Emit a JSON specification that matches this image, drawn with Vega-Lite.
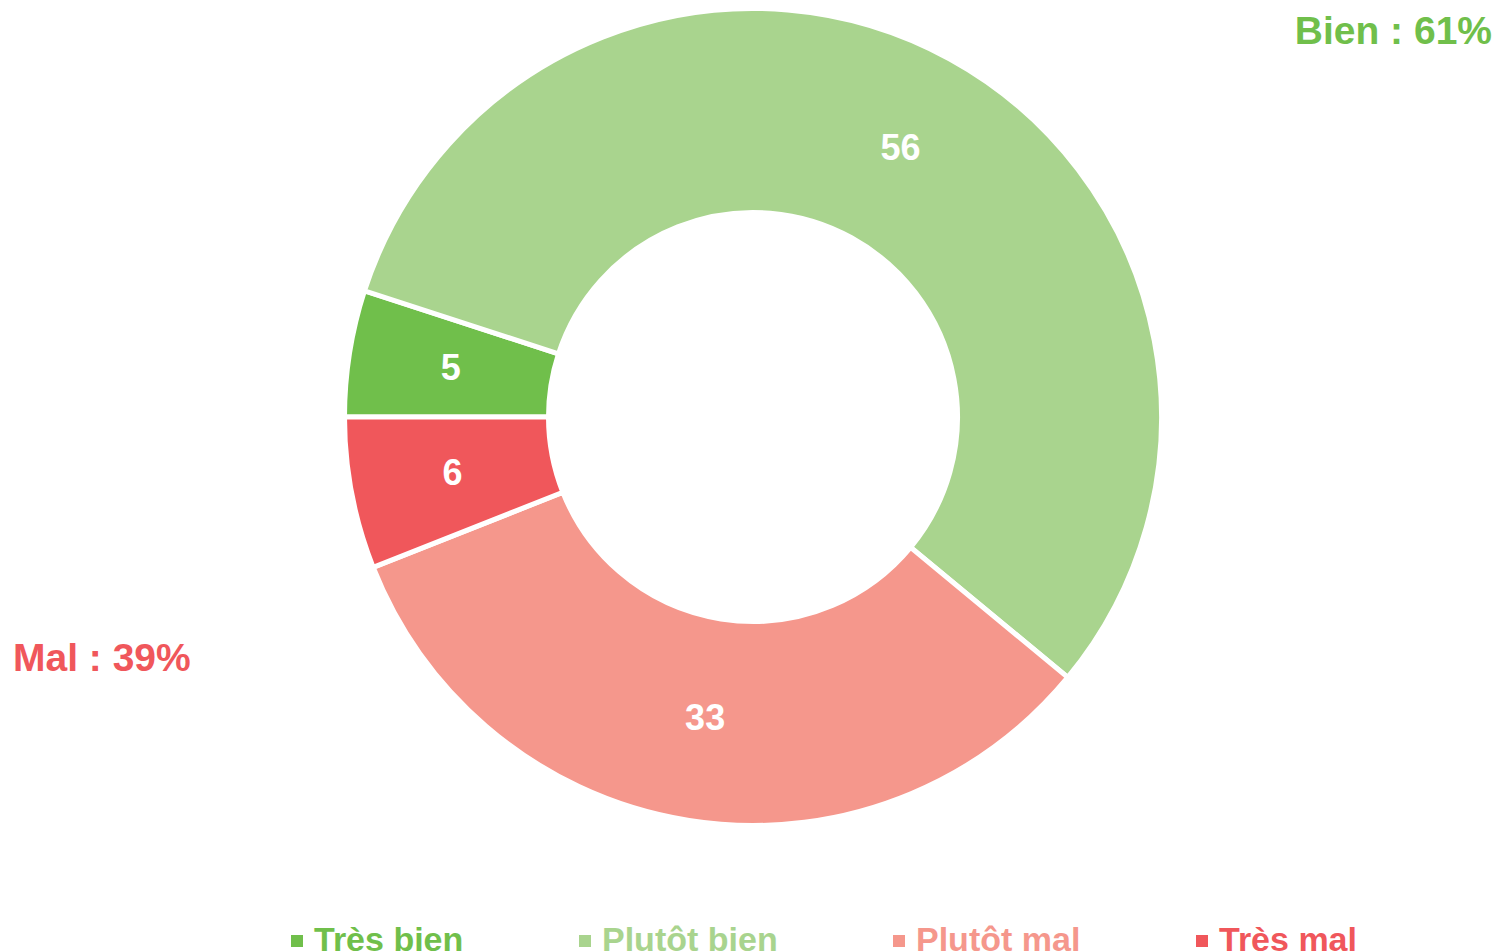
{
  "$schema": "https://vega.github.io/schema/vega-lite/v6.json",
  "autosize": "none",
  "width": 1488,
  "height": 834,
  "padding": {"left": 9, "top": 0, "right": 0, "bottom": 118},
  "background": "white",
  "config": {"view": {"stroke": null}, "font": "Liberation Sans"},
  "datasets": {
    "slices": [
      {"categorie": "Très bien", "valeur": 5, "ordre": 1},
      {"categorie": "Plutôt bien", "valeur": 56, "ordre": 2},
      {"categorie": "Plutôt mal", "valeur": 33, "ordre": 3},
      {"categorie": "Très mal", "valeur": 6, "ordre": 4}
    ],
    "totaux": [
      {"groupe": "Bien", "texte": "Bien : 61%"},
      {"groupe": "Mal", "texte": "Mal : 39%"}
    ]
  },
  "layer": [
    {
      "data": {"name": "slices"},
      "mark": {"type": "arc", "outerRadius": 408.5, "innerRadius": 204.5, "stroke": "white", "strokeWidth": 5},
      "encoding": {
        "theta": {"field": "valeur", "type": "quantitative", "stack": true, "scale": {"range": [4.71238898, 10.99557429]}},
        "order": {"field": "ordre", "type": "quantitative"},
        "color": {
          "field": "categorie",
          "type": "nominal",
          "scale": {
            "domain": ["Très bien", "Plutôt bien", "Plutôt mal", "Très mal"],
            "range": ["#70bf4b", "#a9d48e", "#f5978c", "#f0575b"]
          },
          "legend": {
            "orient": "none",
            "legendX": 271,
            "legendY": 924,
            "direction": "horizontal",
            "columns": 4,
            "columnPadding": 104,
            "title": null,
            "symbolType": "square",
            "symbolSize": 144,
            "symbolStrokeWidth": 0,
            "labelFontSize": 34,
            "labelFont": "Liberation Sans",
            "labelFontWeight": "bold",
            "labelOffset": 0,
            "labelLimit": 400,
            "labelColor": {"expr": "scale('color', datum.value)"}
          }
        }
      }
    },
    {
      "data": {"name": "slices"},
      "mark": {"type": "text", "radius": 306, "fontSize": 36, "fontWeight": "bold", "fill": "white", "font": "Liberation Sans"},
      "encoding": {
        "theta": {"field": "valeur", "type": "quantitative", "stack": true},
        "order": {"field": "ordre", "type": "quantitative"},
        "text": {"field": "valeur", "type": "quantitative"}
      }
    },
    {
      "data": {"name": "totaux"},
      "mark": {
        "type": "text",
        "fontSize": 39,
        "fontWeight": "bold",
        "font": "Liberation Sans",
        "baseline": "alphabetic",
        "align": {"expr": "datum.groupe === 'Bien' ? 'right' : 'left'"}
      },
      "encoding": {
        "x": {"field": "groupe", "type": "nominal", "scale": {"type": "point", "padding": 0, "domain": ["Mal", "Bien"], "range": [4, 1483]}, "axis": null},
        "y": {"field": "groupe", "type": "nominal", "scale": {"type": "point", "padding": 0, "domain": ["Bien", "Mal"], "range": [44, 671]}, "axis": null},
        "text": {"field": "texte"},
        "color": {"condition": {"test": "datum.groupe === 'Bien'", "value": "#70bf4b"}, "value": "#f0575b"}
      }
    }
  ]
}
